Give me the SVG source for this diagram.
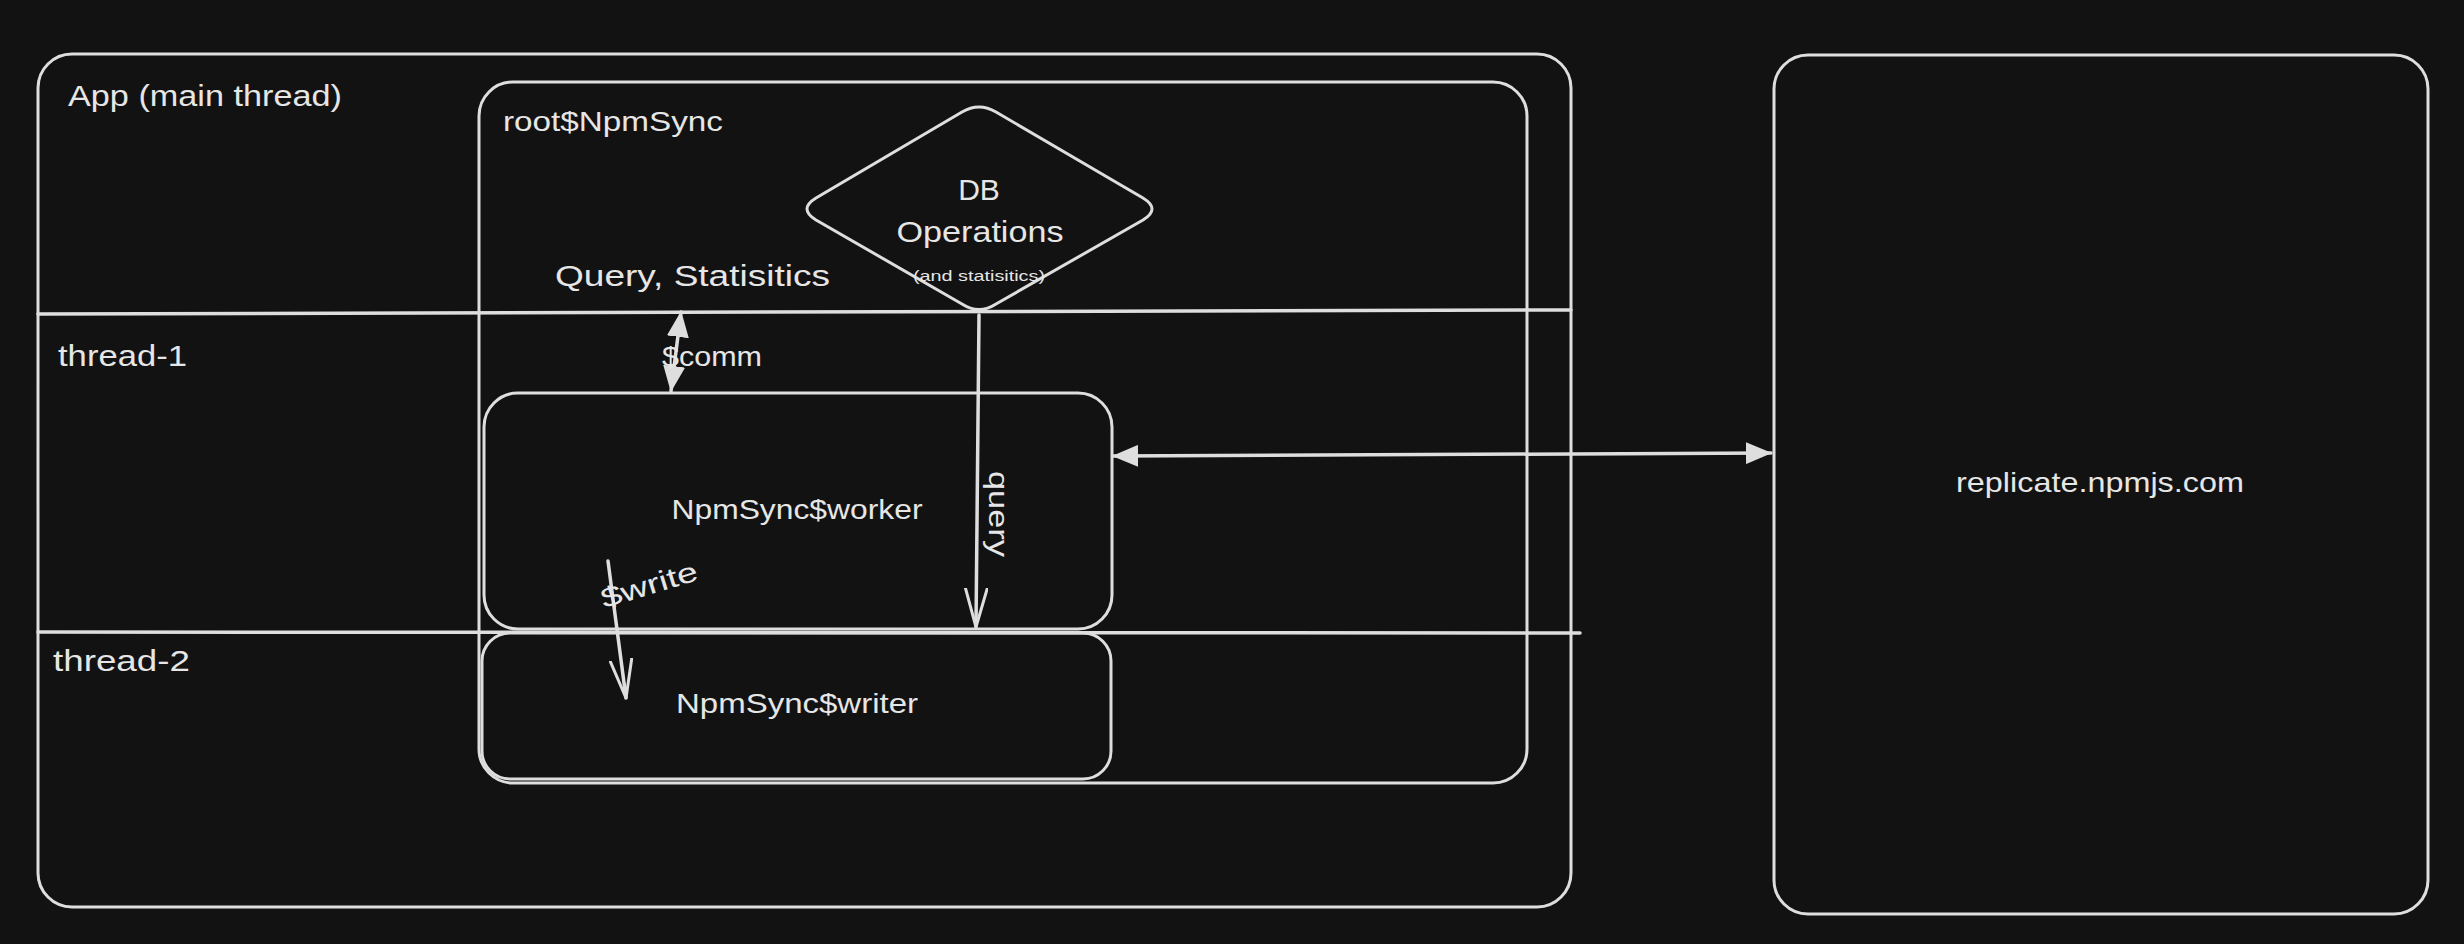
<svg xmlns="http://www.w3.org/2000/svg" width="2464" height="944" viewBox="0 0 2464 944">
<style>
.bg{fill:#121212}
.box{fill:none;stroke:#dedede;stroke-width:3;stroke-linejoin:round;stroke-linecap:round}
.ln{fill:none;stroke:#dedede;stroke-width:3.5;stroke-linecap:round}
.t{fill:#e6e6e6;font-family:"Liberation Sans","Noto Sans",sans-serif;font-size:30px}
.s28{font-size:28px}
.s14{font-size:14px}
.m{text-anchor:middle}
</style>
<defs>
<marker id="tri" viewBox="0 0 26 22" refX="25" refY="11" markerWidth="26" markerHeight="22" markerUnits="userSpaceOnUse" orient="auto-start-reverse">
<path d="M0,0 L26,11 L0,22 Z" fill="#dedede"/>
</marker>
<marker id="open" viewBox="0 0 40 24" refX="39" refY="12" markerWidth="40" markerHeight="24" markerUnits="userSpaceOnUse" orient="auto">
<path d="M0,1 L39,12 L0,23" fill="none" stroke="#dedede" stroke-width="3" stroke-linecap="round" stroke-linejoin="round"/>
</marker>
</defs>
<rect class="bg" x="0" y="0" width="2464" height="944"/>

<g id="app">
<rect class="box" x="38" y="54" width="1533" height="853" rx="34"/>
<text class="t" x="68" y="106" textLength="274" lengthAdjust="spacingAndGlyphs">App (main thread)</text>
</g>

<g id="lanes">
<line class="ln" x1="38" y1="314" x2="1571" y2="310"/>
<text class="t" x="58" y="366" textLength="129" lengthAdjust="spacingAndGlyphs">thread-1</text>
<line class="ln" x1="38" y1="632" x2="1580" y2="633"/>
<text class="t" x="53" y="671" textLength="137" lengthAdjust="spacingAndGlyphs">thread-2</text>
</g>

<g id="root">
<rect class="box" x="479" y="82" width="1048" height="701" rx="34"/>
<text class="t s28" x="503" y="131" textLength="220" lengthAdjust="spacingAndGlyphs">root$NpmSync</text>
</g>

<g id="db">
<path class="box" d="M962,112 Q979,102 996,112 L1143,198 Q1161,209 1143,220 L996,304 Q979,315 962,304 L816,220 Q798,209 816,198 Z"/>
<text class="t m" x="979" y="200">DB</text>
<text class="t m" x="980" y="242" textLength="167" lengthAdjust="spacingAndGlyphs">Operations</text>
<text class="t m s14" x="979" y="281" textLength="132" lengthAdjust="spacingAndGlyphs">(and statisitics)</text>
</g>

<g id="worker">
<rect class="box" x="484" y="393" width="628" height="236" rx="34"/>
<text class="t m s28" x="797" y="519" textLength="251" lengthAdjust="spacingAndGlyphs">NpmSync$worker</text>
</g>

<g id="writer">
<rect class="box" x="482" y="633" width="629" height="146" rx="28"/>
<text class="t m s28" x="797" y="713" textLength="242" lengthAdjust="spacingAndGlyphs">NpmSync$writer</text>
</g>

<g id="replicate">
<rect class="box" x="1774" y="55" width="654" height="859" rx="34"/>
<text class="t m s28" x="2100" y="492" textLength="288" lengthAdjust="spacingAndGlyphs">replicate.npmjs.com</text>
</g>

<g id="connectors">
<line class="ln" x1="681" y1="312" x2="671" y2="391" marker-start="url(#tri)" marker-end="url(#tri)"/>
<text class="t s28" x="662" y="366" textLength="100" lengthAdjust="spacingAndGlyphs">$comm</text>
<text class="t" x="555" y="286" textLength="275" lengthAdjust="spacingAndGlyphs">Query, Statisitics</text>

<line class="ln" x1="979" y1="315" x2="976" y2="627" marker-end="url(#open)"/>
<text class="t m s28" x="0" y="0" textLength="86" lengthAdjust="spacingAndGlyphs" transform="translate(989,514) rotate(90)">query</text>

<line class="ln" x1="608" y1="561" x2="626" y2="698" marker-end="url(#open)"/>
<text class="t m s28" x="0" y="0" textLength="100" lengthAdjust="spacingAndGlyphs" transform="translate(652,594) rotate(-17)">$write</text>

<line class="ln" x1="1113" y1="456" x2="1771" y2="453" marker-start="url(#tri)" marker-end="url(#tri)"/>
</g>
</svg>
